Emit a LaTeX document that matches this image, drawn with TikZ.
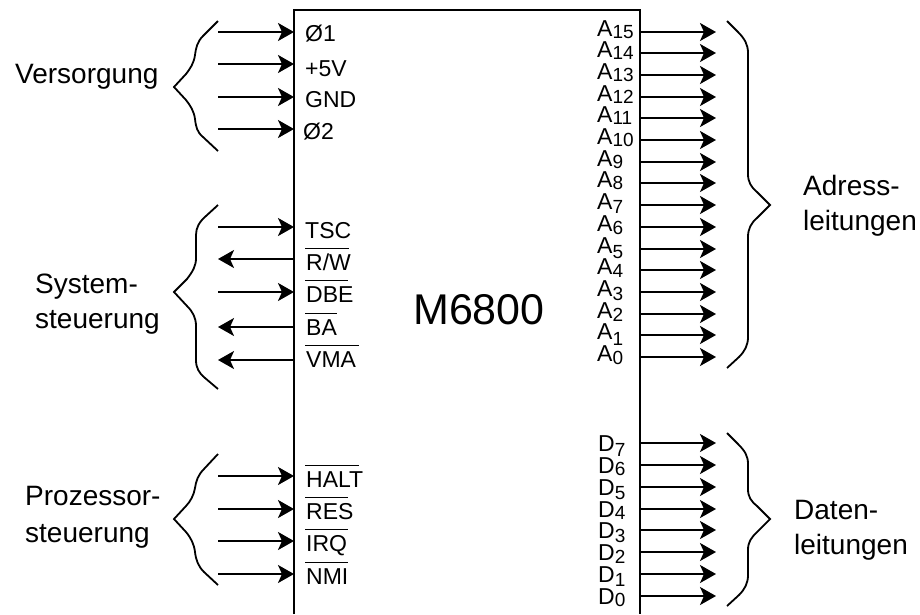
\documentclass[tikz,border=0pt]{standalone}
\usepackage{fontspec}
\setmainfont{Liberation Sans}
\usetikzlibrary{arrows.meta}

\newcommand{\pinbar}[2]{\rlap{\kern-1pt\rule[21pt]{#1pt}{1.5pt}}#2}
\newcommand{\pinsub}[2]{{\fontsize{19}{19}\selectfont\raisebox{-#1pt}{#2}}}

\tikzset{
  pin/.style={anchor=base west, inner sep=0pt, font=\fontsize{23}{23}\selectfont},
  group/.style={anchor=west, inner sep=0pt, align=left, font=\fontsize{28}{35}\selectfont},
  sig/.style={line width=2pt, >={Stealth[length=16pt,width=18pt,inset=4pt]}},
  brace/.style={line width=1.8pt, line join=miter}
}

\begin{document}
\begin{tikzpicture}[x=1pt,y=-1pt]
\useasboundingbox (0,0) rectangle (920,614);

% chip
\draw[line width=2pt] (294,614) -- (294,10) -- (640,10) -- (640,614);
\node[inner sep=0pt, font=\fontsize{43}{43}\selectfont] (chip) at (479,310) {M6800};

% left side, in
\foreach \name/\y in {phia/32,vcc/64,gnd/97,phib/129,tsc/227,dbe/292,halt/476,res/509,irq/541,nmi/574} {
  \coordinate (ext\name) at (218,\y);
  \coordinate (pin\name) at (294,\y);
  \draw[sig,->] (ext\name) -- (pin\name);
}
% left side, out
\foreach \name/\y in {rw/259,ba/327,vma/360} {
  \coordinate (ext\name) at (218,\y);
  \coordinate (pin\name) at (294,\y);
  \draw[sig,->] (pin\name) -- (ext\name);
}

\node[pin] (lphia) at (305,41) {Ø1};
\node[pin] (lvcc) at (305,76) {+5V};
\node[pin] (lgnd) at (305,107) {GND};
\node[pin] (lphib) at (303,139) {Ø2};
\node[pin] (ltsc) at (305,238) {TSC};
\node[pin] (lrw) at (306,270) {\pinbar{44}{R/W}};
\node[pin] (ldbe) at (306,302) {\pinbar{43}{DBE}};
\node[pin] (lba) at (306,335) {\pinbar{32}{BA}};
\node[pin] (lvma) at (306,367) {\pinbar{54}{VMA}};
\node[pin] (lhalt) at (306,487) {\pinbar{54}{HALT}};
\node[pin] (lres) at (306,519) {\pinbar{43}{RES}};
\node[pin] (lirq) at (306,551) {\pinbar{43}{IRQ}};
\node[pin] (lnmi) at (306,584) {\pinbar{43}{NMI}};

% address lines
\foreach \n/\y/\drop in {15/32/2,14/53/2,13/75/2,12/97/2,11/118/2,10/140/2,9/162/2,8/183/2,7/205/4,6/227/3,5/249/5,4/270/3,3/292/4,2/314/3,1/335/6,0/357/3} {
  \coordinate (out\n) at (640,\y);
  \coordinate (end\n) at (716,\y);
  \draw[sig,->] (out\n) -- (end\n);
  \node[pin] (la\n) at (597,\y+4) {A\pinsub{\drop}{\n}};
}

% data lines
\foreach \n/\y/\drop in {7/443/5,6/465/2,5/487/4,4/509/2,3/530/4,2/552/3,1/574/4,0/596/2} {
  \coordinate (dout\n) at (640,\y);
  \coordinate (dend\n) at (716,\y);
  \draw[sig,->] (dout\n) -- (dend\n);
  \node[pin] (ld\n) at (598,\y+8) {D\pinsub{\drop}{\n}};
}

% braces
\draw[brace] (218,21) -- (203,36) .. controls (197,42) and (196,48) .. (195,55)
  .. controls (194,63) and (190,69) .. (186,74) -- (174,87) -- (186,100)
  .. controls (190,105) and (194,111) .. (195,119) .. controls (196,127) and (197,132) .. (203,137) -- (218,151);
\draw[brace] (218,205) -- (206,216) .. controls (199,222) and (196,228) .. (196,235) -- (196,258)
  .. controls (196,266) and (193,271) .. (187,279) -- (174,292) -- (187,306)
  .. controls (193,312) and (196,318) .. (196,326) -- (196,360)
  .. controls (196,368) and (199,373) .. (205,378) -- (218,389);
\draw[brace] (218,454) -- (204,469) .. controls (198,475) and (196,481) .. (195,488)
  .. controls (194,495) and (190,502) .. (186,506) -- (174,519) -- (186,532)
  .. controls (191,538) and (194,544) .. (195,552) .. controls (196,560) and (198,566) .. (204,572) -- (218,585);
\draw[brace] (727,21) -- (738,32) .. controls (745,39) and (748,45) .. (748,53) -- (748,174)
  .. controls (748,182) and (751,187) .. (757,192) -- (770,205) -- (757,218)
  .. controls (751,223) and (748,229) .. (748,237) -- (748,337)
  .. controls (748,345) and (745,351) .. (739,357) -- (727,368);
\draw[brace] (727,433) -- (738,444) .. controls (745,451) and (748,456) .. (748,464) -- (748,489)
  .. controls (748,497) and (751,501) .. (757,506) -- (770,519) -- (757,532)
  .. controls (751,538) and (748,542) .. (748,550) -- (748,575)
  .. controls (748,583) and (745,589) .. (739,595) -- (727,606);

% group labels
\node[group, anchor=base west] (versorgung) at (15,83) {Versorgung};
\node[group] (system) at (35,304) {System-\\steuerung};
\node[group] (prozessor) at (25,517) {Prozessor-\\[2pt]steuerung};
\node[group] (adress) at (803,206) {Adress-\\leitungen};
\node[group] (daten) at (794,530) {Daten-\\leitungen};
\end{tikzpicture}
\end{document}
